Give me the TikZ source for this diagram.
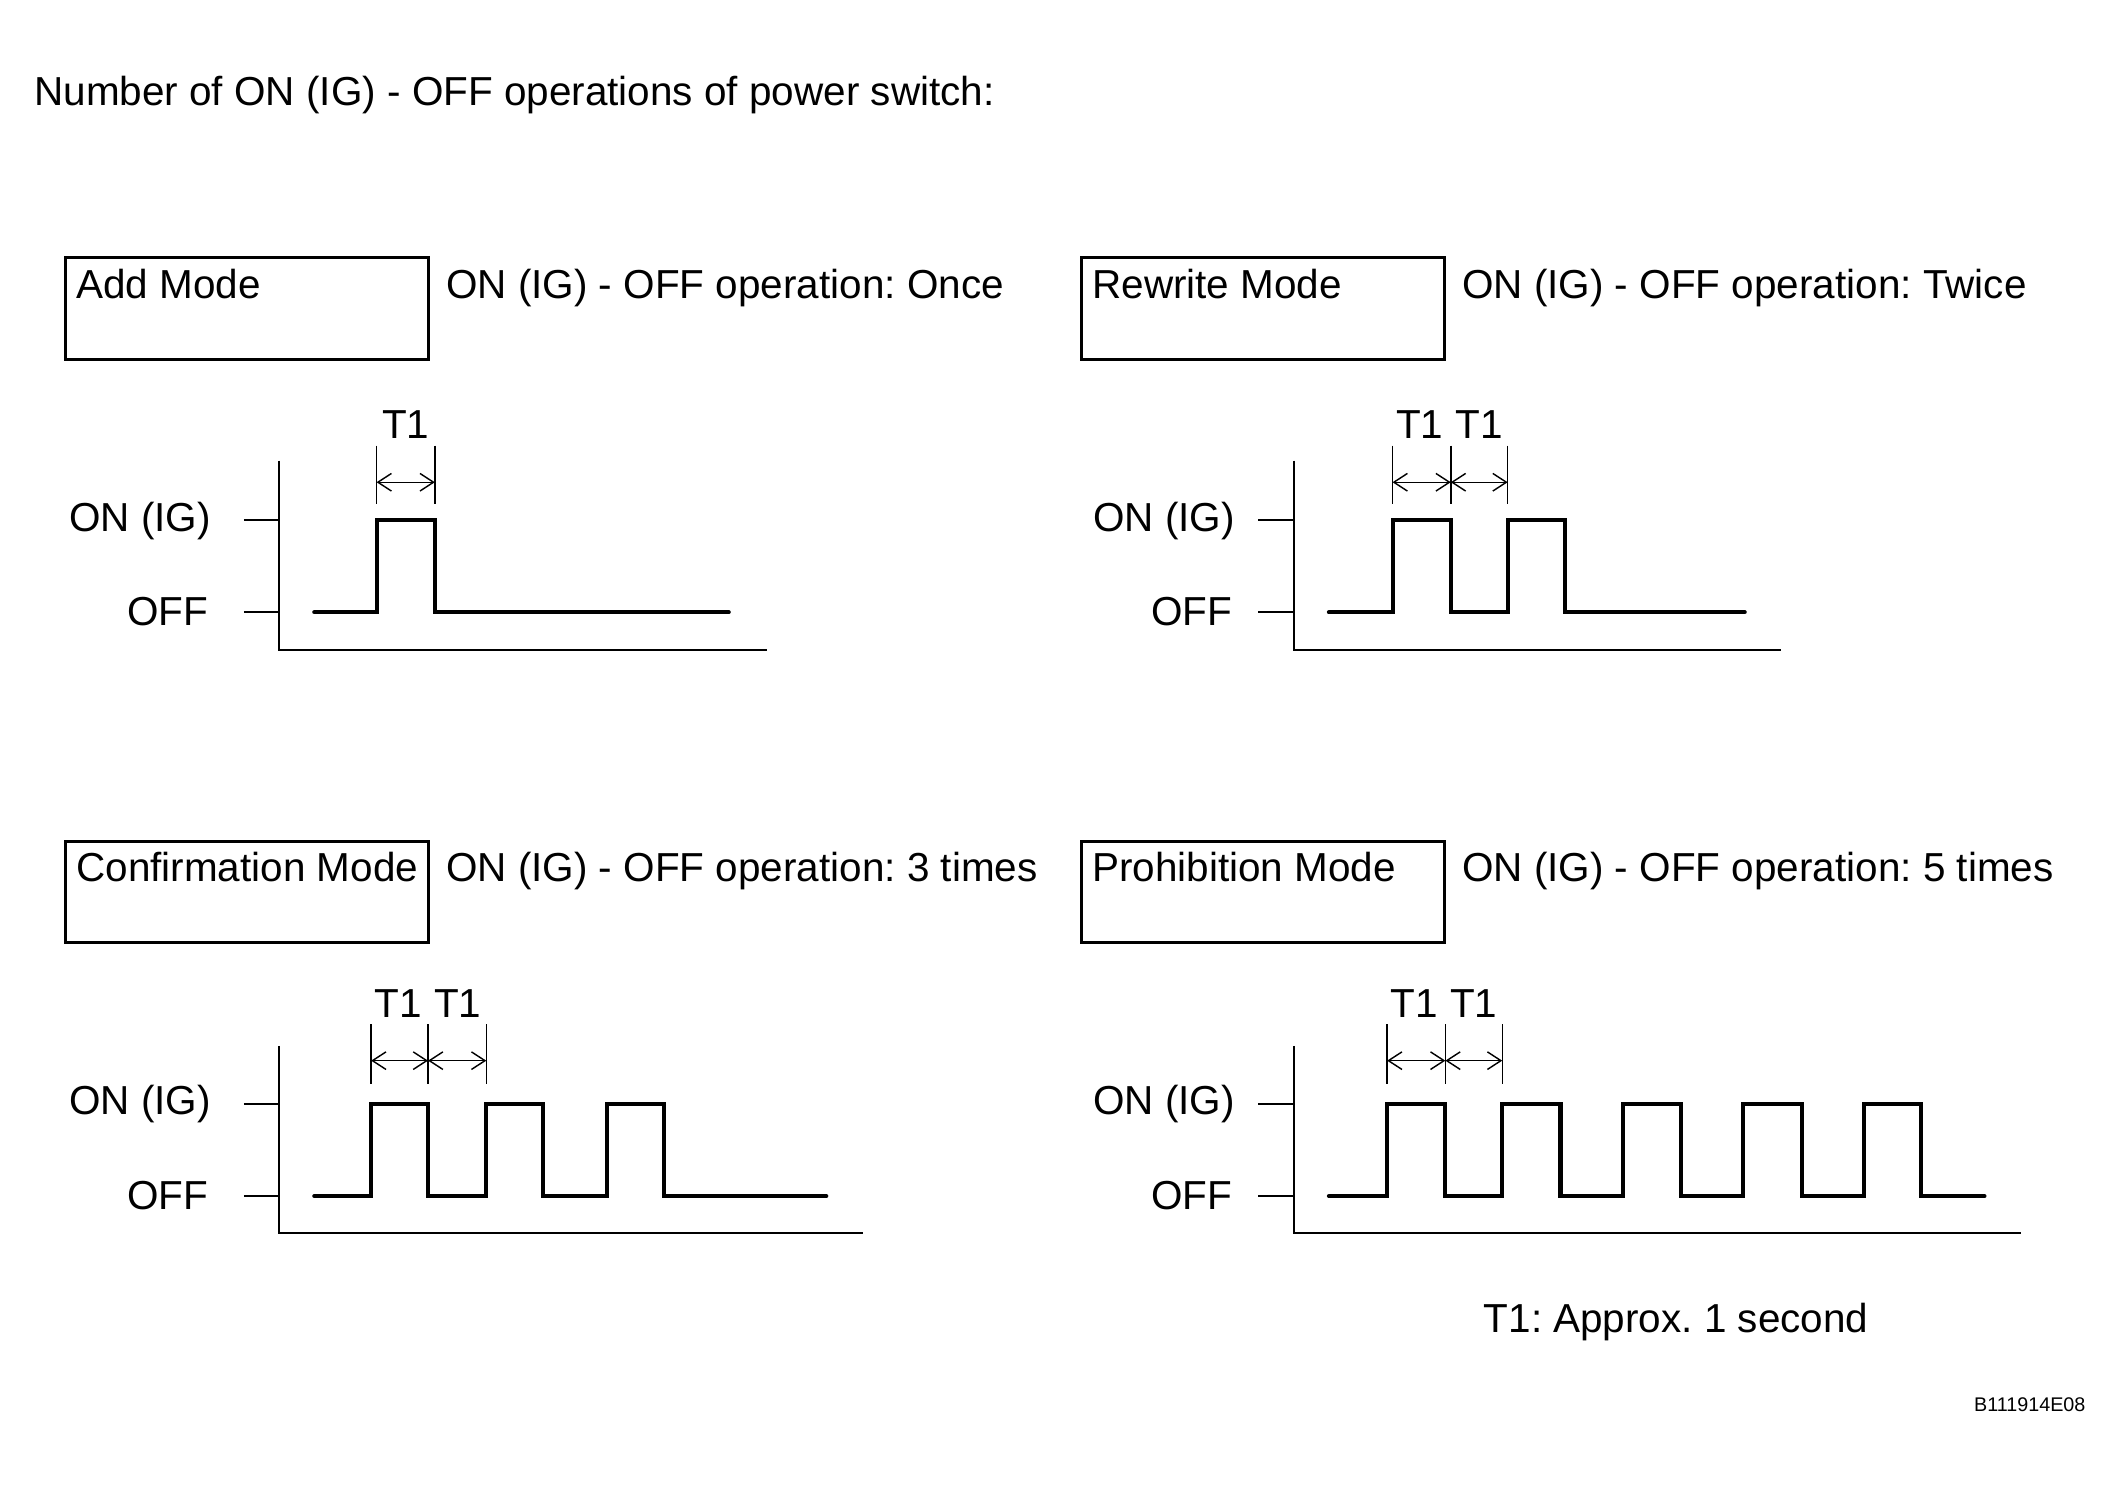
\documentclass[tikz,border=0pt]{standalone}
\usepackage{fontspec}
\setmainfont{Liberation Sans}
\usetikzlibrary{arrows.meta}
\frenchspacing
\tikzset{
  modebox/.style={draw, line width=1.25pt, minimum width=53.6mm, minimum height=15mm, anchor=north west, inner sep=0pt},
  txt/.style={anchor=base west, inner sep=0pt},
  lbl/.style={anchor=base east, inner sep=0pt},
  axis/.style={line width=0.85pt},
  signal/.style={line width=1.7pt, line join=miter, line cap=round},
  dimline/.style={line width=0.6pt},
  dimarrow/.style={line width=0.6pt, {Straight Barb[length=2mm,width=2.6mm]}-{Straight Barb[length=2mm,width=2.6mm]}}
}
\begin{document}
\begin{tikzpicture}[x=0.2mm, y=-0.2mm, font=\fontsize{17}{20}\selectfont]
  \useasboundingbox (0,0) rectangle (1568,1098);

  % Titel
  \node[txt] (title) at (25,78) {Number of ON (IG) - OFF operations of power switch:};

  % Add Mode
  \node[modebox] (addbox) at (47,189) {};
  \node[txt] (addname) at (56,220) {Add Mode};
  \node[txt] (addop) at (329,220) {ON (IG) - OFF operation: Once};
  \draw[axis] (206,340) -- (206,480) -- (566,480);
  \draw[axis] (180,384) -- (206,384);
  \draw[axis] (180,452) -- (206,452);
  \node[lbl] (addon) at (156,392) {ON (IG)};
  \node[lbl] (addoff) at (154,462) {OFF};
  \draw[signal] (232,452) foreach \r/\f in {278/321} {-- (\r,452) -- (\r,384) -- (\f,384) -- (\f,452)} -- (538,452);
  \foreach \x in {278,321} \draw[dimline] (\x,329) -- (\x,372);
  \draw[dimarrow] (278,356) -- (321,356);
  \node[anchor=base, inner sep=0pt] (addt) at (299.5,324) {T1};

  % Rewrite Mode
  \node[modebox] (rewbox) at (797,189) {};
  \node[txt] (rewname) at (806,220) {Rewrite Mode};
  \node[txt] (rewop) at (1079,220) {ON (IG) - OFF operation: Twice};
  \draw[axis] (955,340) -- (955,480) -- (1315,480);
  \draw[axis] (929,384) -- (955,384);
  \draw[axis] (929,452) -- (955,452);
  \node[lbl] (rewon) at (912,392) {ON (IG)};
  \node[lbl] (rewoff) at (910,462) {OFF};
  \draw[signal] (981,452) foreach \r/\f in {1028/1071,1113/1155} {-- (\r,452) -- (\r,384) -- (\f,384) -- (\f,452)} -- (1288,452);
  \foreach \x in {1028,1071,1113} \draw[dimline] (\x,329) -- (\x,372);
  \draw[dimarrow] (1028,356) -- (1071,356);
  \draw[dimarrow] (1071,356) -- (1113,356);
  \node[anchor=base, inner sep=0pt] (rewta) at (1048,324) {T1};
  \node[anchor=base, inner sep=0pt] (rewtb) at (1092,324) {T1};

  % Confirmation Mode
  \node[modebox] (conbox) at (47,620) {};
  \node[txt] (conname) at (56,651) {Confirmation Mode};
  \node[txt] (conop) at (329,651) {ON (IG) - OFF operation: 3 times};
  \draw[axis] (206,772) -- (206,910) -- (637,910);
  \draw[axis] (180,815) -- (206,815);
  \draw[axis] (180,883) -- (206,883);
  \node[lbl] (conon) at (156,823) {ON (IG)};
  \node[lbl] (conoff) at (154,893) {OFF};
  \draw[signal] (232,883) foreach \r/\f in {274/316,359/401,448/490} {-- (\r,883) -- (\r,815) -- (\f,815) -- (\f,883)} -- (610,883);
  \foreach \x in {274,316,359} \draw[dimline] (\x,756) -- (\x,800);
  \draw[dimarrow] (274,783) -- (316,783);
  \draw[dimarrow] (316,783) -- (359,783);
  \node[anchor=base, inner sep=0pt] (conta) at (294,751) {T1};
  \node[anchor=base, inner sep=0pt] (contb) at (338,751) {T1};

  % Prohibition Mode
  \node[modebox] (probox) at (797,620) {};
  \node[txt] (proname) at (806,651) {Prohibition Mode};
  \node[txt] (proop) at (1079,651) {ON (IG) - OFF operation: 5 times};
  \draw[axis] (955,772) -- (955,910) -- (1492,910);
  \draw[axis] (929,815) -- (955,815);
  \draw[axis] (929,883) -- (955,883);
  \node[lbl] (proon) at (912,823) {ON (IG)};
  \node[lbl] (prooff) at (910,893) {OFF};
  \draw[signal] (981,883) foreach \r/\f in {1024/1067,1109/1152,1198/1241,1287/1330,1376/1418} {-- (\r,883) -- (\r,815) -- (\f,815) -- (\f,883)} -- (1465,883);
  \foreach \x in {1024,1067,1109} \draw[dimline] (\x,756) -- (\x,800);
  \draw[dimarrow] (1024,783) -- (1067,783);
  \draw[dimarrow] (1067,783) -- (1109,783);
  \node[anchor=base, inner sep=0pt] (prota) at (1044,751) {T1};
  \node[anchor=base, inner sep=0pt] (protb) at (1088,751) {T1};

  % Fussnote
  \node[txt] (note) at (1095,984) {T1: Approx. 1 second};
  \node[txt, font=\fontsize{8.3}{10}\selectfont] (code) at (1457,1042) {B111914E08};
\end{tikzpicture}
\end{document}
